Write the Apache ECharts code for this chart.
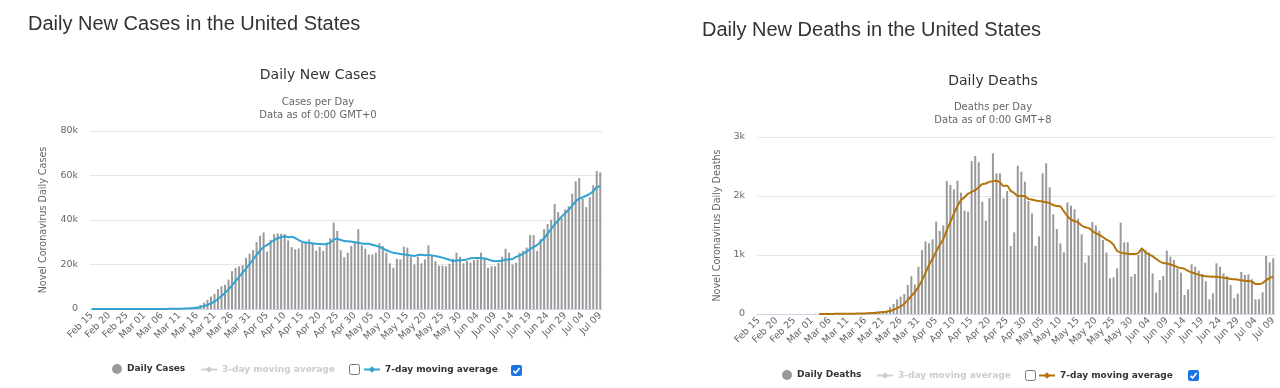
<!DOCTYPE html>
<html><head><meta charset="utf-8">
<script src="https://cdn.jsdelivr.net/npm/echarts@6/dist/echarts.min.js"></script>
<style>html,body{margin:0;padding:0;background:#fff;}#c{width:1280px;height:388px;}</style>
</head><body><div id="c"></div>
<script>
const dates = ["Feb 15","Feb 16","Feb 17","Feb 18","Feb 19","Feb 20","Feb 21","Feb 22","Feb 23","Feb 24","Feb 25","Feb 26","Feb 27","Feb 28","Feb 29",
"Mar 01","Mar 02","Mar 03","Mar 04","Mar 05","Mar 06","Mar 07","Mar 08","Mar 09","Mar 10","Mar 11","Mar 12","Mar 13","Mar 14","Mar 15","Mar 16","Mar 17","Mar 18","Mar 19","Mar 20","Mar 21","Mar 22","Mar 23","Mar 24","Mar 25","Mar 26","Mar 27","Mar 28","Mar 29","Mar 30","Mar 31",
"Apr 01","Apr 02","Apr 03","Apr 04","Apr 05","Apr 06","Apr 07","Apr 08","Apr 09","Apr 10","Apr 11","Apr 12","Apr 13","Apr 14","Apr 15","Apr 16","Apr 17","Apr 18","Apr 19","Apr 20","Apr 21","Apr 22","Apr 23","Apr 24","Apr 25","Apr 26","Apr 27","Apr 28","Apr 29","Apr 30",
"May 01","May 02","May 03","May 04","May 05","May 06","May 07","May 08","May 09","May 10","May 11","May 12","May 13","May 14","May 15","May 16","May 17","May 18","May 19","May 20","May 21","May 22","May 23","May 24","May 25","May 26","May 27","May 28","May 29","May 30","May 31",
"Jun 01","Jun 02","Jun 03","Jun 04","Jun 05","Jun 06","Jun 07","Jun 08","Jun 09","Jun 10","Jun 11","Jun 12","Jun 13","Jun 14","Jun 15","Jun 16","Jun 17","Jun 18","Jun 19","Jun 20","Jun 21","Jun 22","Jun 23","Jun 24","Jun 25","Jun 26","Jun 27","Jun 28","Jun 29","Jun 30",
"Jul 01","Jul 02","Jul 03","Jul 04","Jul 05","Jul 06","Jul 07","Jul 08","Jul 09"];

const dailyCases = [0,0,0,0,0,0,1,1,0,0,0,3,1,6,6,
8,23,24,28,77,59,97,118,171,284,287,388,511,637,759,1059,
1800,2900,4100,5600,6800,8900,10200,10900,13200,17000,18500,19200,19700,23000,24800,26500,30100,32900,34400,25800,31100,33600,34000,33800,33700,30800,27800,26800,27200,30000,29800,31300,29500,26200,28000,26100,29800,31800,
38900,35100,26400,23300,25300,28300,30100,35900,28600,27100,24500,24500,25300,29500,28300,25300,20500,18500,22600,22300,28000,27600,23500,20000,23500,20500,22300,28600,24100,21500,19500,19500,19200,20300,22600,25300,23500,20500,21500,20800,22000,22300,25300,23000,18500,19200,19200,20800,23500,27100,25300,20000,20800,25300,26100,27600,33200,33200,26100,31400,35900,38200,40100,47300,43500,40800,44700,46200,51800,57400,58900,49500,45800,50300,55600,62000,61400];

const casesAvg7 = [0,0,0,0,0,0,0,1,1,1,1,1,1,2,2,
6,9,12,15,25,33,46,61,79,113,145,189,243,320,400,520,
900,1300,1800,2500,3400,4500,5800,7200,8800,10600,12500,14400,16300,18200,20200,22200,24300,26300,27900,28700,29900,30900,31800,32400,32600,32300,32500,31900,31000,30300,29900,29700,29500,29300,29200,29100,29200,29900,
31200,31600,31000,30600,30400,30300,30000,29700,29400,29300,29300,28900,28500,28000,27200,26400,25800,25300,25000,24700,24500,24300,24000,23800,24300,24400,24200,24300,24100,23800,23500,23100,22600,22100,21600,21800,21900,22000,22300,22800,22900,22900,22900,22700,22300,21800,21500,21600,21700,22200,22300,22500,23400,24000,24900,25800,26900,27800,28800,30300,31800,33900,35900,38000,39700,41500,43100,44600,46500,48300,49600,50200,50900,51700,52900,54800,55200];

const dailyDeaths = [0,0,0,0,0,0,0,0,0,0,0,0,0,0,1,
1,5,1,4,1,2,3,4,4,5,8,8,10,10,12,17,20,30,40,45,50,56,115,170,249,294,339,492,640,500,802,1085,1230,1200,1266,1565,1410,1500,
2254,2187,2113,2260,2057,1752,1735,2594,2678,2571,1904,1582,1966,2723,
2384,2384,1960,2085,1153,1384,2514,2413,2243,1915,1706,1153,1316,2384,2554,2147,1689,1441,1198,1045,1893,1836,1774,1616,1350,870,989,1559,1503,1412,1254,1040,605,621,774,1548,1215,1215,633,678,1000,1124,1085,1040,689,362,576,644,1074,972,915,774,701,322,418,842,802,735,678,554,249,350,859,802,689,644,492,266,345,712,661,672,588,249,249,367,983,876,944];

const deathsAvg7 = [null,null,null,null,null,null,null,null,null,null,null,null,null,null,null,null,null,
1,2,2,2,2,3,3,3,4,5,6,7,8,10,12,15,20,25,32,40,52,72,100,130,175,235,305,370,460,570,700,830,940,1060,1170,1270,1420,1560,1700,1830,1930,1980,2040,2070,2100,2150,2200,2210,2240,2250,2260,2230,2170,2175,2090,2050,2000,2000,2000,1950,1940,1925,1915,1905,1895,1880,1845,1831,1825,1740,1660,1600,1575,1550,1500,1470,1455,1410,1370,1340,1305,1260,1230,1170,1070,1045,1030,1020,1015,1017,1035,1110,1045,1010,980,935,890,865,855,840,820,795,778,765,730,705,685,665,648,640,634,633,633,625,616,605,593,590,585,568,565,560,548,510,508,525,575,610,633];

const casesTicks = [0, 20000, 40000, 60000, 80000];
const deathsTicks = [0, 1000, 2000, 3000];

const FONT = '"DejaVu Sans", "Lucida Grande", sans-serif';
const AXLBL = {color:'#666', fontFamily:FONT, fontSize:9.5};
const CASE_BLUE = '#31a3d1';
const DEATH_BROWN = '#b5730c';
const BAR_GRAY = '#9a9a9a';

function txt(text, x, y, size, color, weight, family, align) {
  return {type:'text', silent:true, style:{text:text, x:x, y:y, fill:color,
    font:(weight||'normal') + ' ' + size + 'px ' + (family||FONT),
    align: align||'center', verticalAlign:'middle', textAlign: align||'center', textVerticalAlign:'middle'}};
}
function checkbox(x, y, checked) {
  const els = [];
  if (checked) {
    els.push({type:'rect', silent:true, shape:{x:x, y:y, width:11, height:11, r:2}, style:{fill:'#1b74e4'}});
    els.push({type:'polyline', silent:true, shape:{points:[[x+2.5,y+5.8],[x+4.6,y+8],[x+8.6,y+3]]}, style:{stroke:'#fff', lineWidth:1.7, fill:null}});
  } else {
    els.push({type:'rect', silent:true, shape:{x:x+0.5, y:y+0.5, width:10, height:10, r:2}, style:{fill:'#fff', stroke:'#767676', lineWidth:1}});
  }
  return els;
}

const kFmt = v => v === 0 ? '0' : (v/1000) + 'k';

const legendBase = {orient:'horizontal', padding:0, itemGap:0, inactiveColor:'#cccccc',
  textStyle:{fontFamily:FONT, fontWeight:'bold', fontSize:9, color:'#333'},
  formatter: n => n.replace(' (deaths)', ''), selectedMode:false};

const chart = echarts.init(document.getElementById('c'), null, {renderer:'canvas'});
chart.setOption({
  animation:false,
  backgroundColor:'#fff',
  grid:[
    {left:90, top:131, width:512, height:178, outerBoundsMode:'none', containLabel:false},
    {left:757, top:137, width:518, height:177, outerBoundsMode:'none', containLabel:false}
  ],
  xAxis:[
    {type:'category', gridIndex:0, data:dates, boundaryGap:true,
     axisLine:{lineStyle:{color:'#ccd6eb'}}, axisTick:{show:false},
     axisLabel:Object.assign({interval:4, rotate:45, margin:5}, AXLBL)},
    {type:'category', gridIndex:1, data:dates, boundaryGap:true,
     axisLine:{lineStyle:{color:'#ccd6eb'}}, axisTick:{show:false},
     axisLabel:Object.assign({interval:4, rotate:45, margin:5}, AXLBL)}
  ],
  yAxis:[
    {type:'value', gridIndex:0, min:casesTicks[0], max:casesTicks[casesTicks.length-1], interval:casesTicks[1]-casesTicks[0],
     axisLine:{show:false}, axisTick:{show:false},
     splitLine:{lineStyle:{color:'#e6e6e6'}},
     axisLabel:Object.assign({formatter:kFmt, margin:12}, AXLBL),
     name:'Novel Coronavirus Daily Cases', nameLocation:'middle', nameGap:42, nameRotate:90,
     nameTextStyle:{color:'#666', fontFamily:FONT, fontSize:9.6}},
    {type:'value', gridIndex:1, min:deathsTicks[0], max:deathsTicks[deathsTicks.length-1], interval:deathsTicks[1]-deathsTicks[0],
     axisLine:{show:false}, axisTick:{show:false},
     splitLine:{lineStyle:{color:'#e6e6e6'}},
     axisLabel:Object.assign({formatter:kFmt, margin:12}, AXLBL),
     name:'Novel Coronavirus Daily Deaths', nameLocation:'middle', nameGap:35, nameRotate:90,
     nameTextStyle:{color:'#666', fontFamily:FONT, fontSize:9.6}}
  ],
  legend:[
    Object.assign({left:112, top:364, data:[{name:'Daily Cases', icon:'circle'}], itemWidth:10, itemHeight:10}, legendBase),
    Object.assign({left:200, top:365, data:['3-day moving average'], itemWidth:16, itemHeight:8, selected:{'3-day moving average':false}}, legendBase),
    Object.assign({left:363, top:365, data:['7-day moving average'], itemWidth:16, itemHeight:8}, legendBase),
    Object.assign({left:782, top:370, data:[{name:'Daily Deaths', icon:'circle'}], itemWidth:10, itemHeight:10}, legendBase),
    Object.assign({left:876, top:371, data:['3-day moving average (deaths)'], itemWidth:16, itemHeight:8, selected:{'3-day moving average (deaths)':false}}, legendBase),
    Object.assign({left:1038, top:371, data:['7-day moving average (deaths)'], itemWidth:16, itemHeight:8}, legendBase)
  ],
  series:[
    {name:'Daily Cases', type:'bar', xAxisIndex:0, yAxisIndex:0, data:dailyCases, barWidth:2,
     itemStyle:{color:BAR_GRAY}},
    {name:'3-day moving average', type:'line', xAxisIndex:0, yAxisIndex:0, data:[], color:'#cccccc', symbol:'diamond', symbolSize:6},
    {name:'7-day moving average', type:'line', xAxisIndex:0, yAxisIndex:0, data:casesAvg7, color:CASE_BLUE,
     lineStyle:{width:2, color:CASE_BLUE}, symbol:'diamond', symbolSize:6, showSymbol:false, smooth:0.2},
    {name:'Daily Deaths', type:'bar', xAxisIndex:1, yAxisIndex:1, data:dailyDeaths, barWidth:2,
     itemStyle:{color:BAR_GRAY}},
    {name:'3-day moving average (deaths)', type:'line', xAxisIndex:1, yAxisIndex:1, data:[], color:'#cccccc', symbol:'diamond', symbolSize:6},
    {name:'7-day moving average (deaths)', type:'line', xAxisIndex:1, yAxisIndex:1, data:deathsAvg7, color:DEATH_BROWN,
     lineStyle:{width:2, color:DEATH_BROWN}, symbol:'diamond', symbolSize:6, showSymbol:false, smooth:0.2, connectNulls:false}
  ],
  graphic:{elements:[].concat(
    [txt('Daily New Cases in the United States', 28, 24, 20, '#333', 'normal', '"Liberation Sans", Arial, sans-serif', 'left'),
     txt('Daily New Deaths in the United States', 702, 30, 20, '#333', 'normal', '"Liberation Sans", Arial, sans-serif', 'left'),
     txt('Daily New Cases', 318, 75, 14, '#333'),
     txt('Cases per Day', 318, 102, 10, '#666'),
     txt('Data as of 0:00 GMT+0', 318, 115, 10, '#666'),
     txt('Daily Deaths', 993, 81, 14, '#333'),
     txt('Deaths per Day', 993, 107, 10, '#666'),
     txt('Data as of 0:00 GMT+8', 993, 120, 10, '#666')],
    checkbox(349, 364, false), checkbox(511, 365, true),
    checkbox(1025, 370, false), checkbox(1188, 370, true)
  )}
});
</script></body></html>
